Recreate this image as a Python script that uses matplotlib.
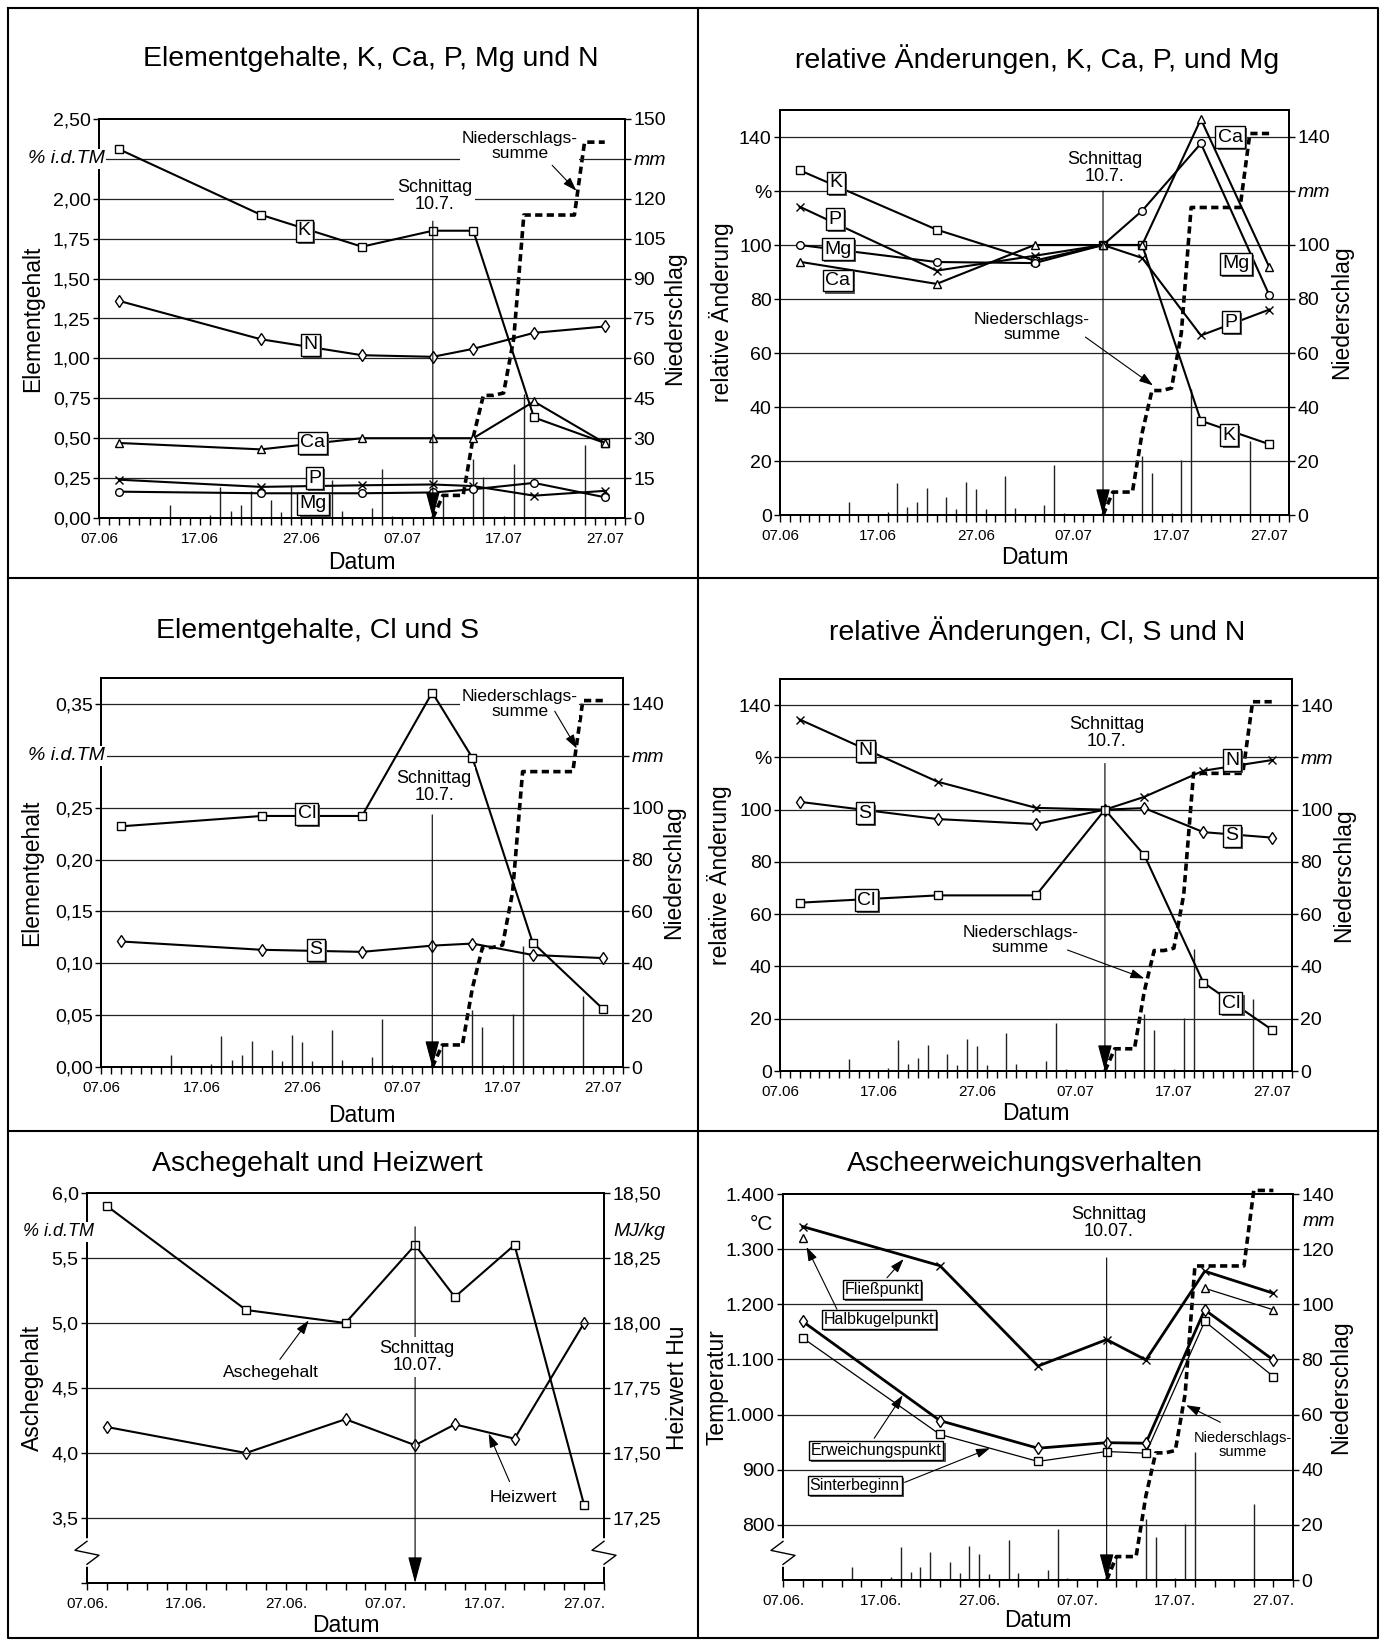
import numpy as np
import pandas as pd
import matplotlib
matplotlib.use('Agg')
import matplotlib.pyplot as plt
import matplotlib.patheffects as pe
from matplotlib.lines import Line2D

plt.rcParams['font.family'] = ['Liberation Sans', 'DejaVu Sans']

W, H = 1384, 1642

# Probenahmetermine
dates = ['09.06', '23.06', '03.07', '10.07', '14.07', '20.07', '27.07']

# Elementgehalte K, Ca, P, Mg, N in % i.d.TM
K = [2.31, 1.90, 1.70, 1.80, 1.80, 0.63, 0.47]
N = [1.36, 1.12, 1.02, 1.01, 1.06, 1.16, 1.20]
Ca = [0.47, 0.43, 0.50, 0.50, 0.50, 0.73, 0.47]
P = [0.24, 0.195, 0.205, 0.21, 0.20, 0.14, 0.17]
Mg = [0.165, 0.155, 0.155, 0.16, 0.18, 0.22, 0.13]

# relative Aenderungen (Schnittag = 100 %)
K_rel = [127.7, 105.7, 94.2, 100, 100, 34.9, 26.2]
P_rel = [114.2, 90.5, 96.0, 100, 95.2, 66.5, 76.1]
Mg_rel = [100, 93.7, 93.3, 100, 112.7, 137.6, 81.3]
Ca_rel = [93.8, 85.6, 100, 100, 100, 146.6, 91.7]

# Cl und S in % i.d.TM
Cl = [0.232, 0.242, 0.242, 0.361, 0.298, 0.120, 0.056]
S = [0.121, 0.113, 0.111, 0.117, 0.119, 0.108, 0.105]

N_rel = [134.5, 110.7, 100.7, 100, 104.9, 114.9, 119.0]
S_rel = [103.0, 96.4, 94.5, 100, 100.6, 91.4, 89.3]
Cl_rel = [64.4, 67.2, 67.2, 100, 82.6, 33.8, 15.7]

# Aschegehalt (% i.d.TM) und Heizwert (MJ/kg)
asche = [5.90, 5.10, 5.00, 5.60, 5.20, 5.60, 3.60]
heizwert = [17.60, 17.50, 17.63, 17.53, 17.61, 17.555, 18.00]

# Ascheerweichungsverhalten in Grad C
fliess = [1341, 1270, 1088, 1136, 1099, 1260, 1220]
halbkugel = [1320, np.nan, np.nan, np.nan, np.nan, 1229, 1190]
erweichung = [1169, 989, 939, 949, 948, 1190, 1099]
sinter = [1139, 964, 915, 933, 930, 1169, 1069]

# Niederschlag, Tageswerte in mm
rain_dates = ['14.06', '17.06', '18.06', '19.06', '20.06', '21.06', '22.06', '23.06',
              '24.06', '25.06', '26.06', '27.06', '28.06', '30.06', '01.07', '04.07',
              '05.07', '06.07', '11.07', '14.07', '15.07', '17.07', '18.07', '19.07', '25.07']
rain_mm = [4.7, 0.5, 1.2, 11.8, 2.8, 4.8, 10.0, 0.5, 6.6, 2.4, 12.3, 9.5, 2.2, 14.4, 2.6,
           3.7, 18.5, 0.9, 8.5, 22.0, 15.6, 0.9, 20.4, 46.5, 27.4]

# Niederschlagssumme ab Schnittag in mm
rain_sum_dates = ['10.07', '11.07', '12.07', '13.07', '14.07', '15.07', '16.07', '17.07', '18.07',
                  '19.07', '20.07', '21.07', '22.07', '23.07', '24.07', '25.07', '26.07', '27.07']
rain_sum = [0, 8.5, 8.5, 8.5, 30.5, 46.1, 46.1, 47.0, 67.4, 113.9, 113.9, 113.9, 113.9, 113.9,
            113.9, 141.3, 141.3, 141.3]

xtick_dates = ['07.06', '17.06', '27.06', '07.07', '17.07', '27.07']
xtick_dot = ['07.06.', '17.06.', '27.06.', '07.07.', '17.07.', '27.07.']

p1_left = ['0,00', '0,25', '0,50', '0,75', '1,00', '1,25', '1,50', '1,75', '2,00', '', '2,50']
p1_right = ['0', '15', '30', '45', '60', '75', '90', '105', '120', 'mm', '150']
rel_left = ['0', '20', '40', '60', '80', '100', '%', '140']
rel_right = ['0', '20', '40', '60', '80', '100', 'mm', '140']
p3_left = ['0,00', '0,05', '0,10', '0,15', '0,20', '0,25', '', '0,35']
p5_left = ['', '3,5', '4,0', '4,5', '5,0', '5,5', '6,0']
p5_right = ['17,25', '17,50', '17,75', '18,00', '18,25', '18,50']
p6_left = ['800', '900', '1.000', '1.100', '1.200', '1.300', '1.400']
p6_right = ['0', '20', '40', '60', '80', '100', '120', '140']

start = pd.Timestamp('2000-06-07')


def day(lst):
    return [(pd.Timestamp(f'2000-{s[3:5]}-{s[0:2]}') - start).days for s in lst]


x = day(dates)
fig = plt.figure(figsize=(W / 100, H / 100), dpi=100)

mk = dict(color='k', mfc='white', mec='k', mew=1.0)


def add_panel(rect):
    l, t, r, b = rect
    ax = fig.add_axes([l / W, 1 - b / H, (r - l) / W, (b - t) / H])
    ax2 = ax.twinx()
    ax.set_zorder(ax2.get_zorder() + 1)
    ax.patch.set_visible(False)
    return ax, ax2


def style_panel(ax, ax2, rect, left, right, grid, xlabels, minor, ylab, lab_x, datum_dy):
    l, t, r, b = rect
    w, h = r - l, b - t
    ax.set_xlim(0, 52)
    ax.set_xticks(day(xtick_dates))
    ax.set_xticklabels(xlabels, fontsize=11)
    ax.set_xticks(np.arange(0, 53, minor), minor=True)
    ax.tick_params(axis='x', which='both', direction='out', length=5, width=1, pad=5)
    for a, (ticks, labels, lim) in ((ax, left), (ax2, right)):
        a.set_ylim(*lim)
        a.set_yticks(ticks)
        a.set_yticklabels(labels, fontsize=14)
        a.tick_params(axis='y', direction='out', length=4, width=1, pad=2)
        for s in a.spines.values():
            s.set_linewidth(1.4)
    for g in grid:
        ax.axhline(g, color='#222', lw=0.9, zorder=1)
    ax.set_xlabel('Datum', fontsize=16.5)
    ax.xaxis.label.set_va('center')
    ax.xaxis.set_label_coords(0.5, -datum_dy / h)
    ax.set_ylabel(ylab[0], fontsize=16.5)
    ax2.set_ylabel(ylab[1], fontsize=16.5)
    ax.yaxis.label.set_va('center')
    ax2.yaxis.label.set_va('center')
    ax.yaxis.set_label_coords((lab_x[0] - l) / w, 0.5)
    ax2.yaxis.set_label_coords((lab_x[1] - l) / w, 0.5)
    for tl in ax.get_yticklabels() + ax2.get_yticklabels():
        if tl.get_text() == 'mm':
            tl.set_style('italic')


def draw_rain(ax2):
    ax2.vlines(day(rain_dates), 0, rain_mm, color='#222', lw=1)
    ax2.plot(day(rain_sum_dates), rain_sum, color='k', lw=2.6, ls=(0, (2, 1.2)), clip_on=False)


def schnitt(ax, label, ytext, ytop, ybot):
    ax.annotate('', xy=(33, ybot), xytext=(33, ytop),
                arrowprops=dict(arrowstyle='-|>,head_length=0.75,head_width=0.2', color='k',
                                lw=0.8, mutation_scale=22, shrinkA=0, shrinkB=0), zorder=4)
    ax.text(33.2, ytext, label, ha='center', va='center', fontsize=13, linespacing=1.0,
            zorder=5, bbox=dict(fc='white', ec='none', pad=2))


def note(ax, label, xy_text, xy_from, xy_to, size=12.5, bg=True):
    ax.text(xy_text[0], xy_text[1], label, ha='center', va='center', fontsize=size,
            linespacing=1.0, zorder=5,
            bbox=dict(fc='white', ec='none', pad=1) if bg else None)
    ax.annotate('', xy=xy_to, xytext=xy_from,
                arrowprops=dict(arrowstyle='-|>,head_length=0.6,head_width=0.2', color='k',
                                lw=0.8, mutation_scale=14, shrinkA=0, shrinkB=0), zorder=5)


def box(ax, xx, yy, s, size=14):
    t = ax.text(xx, yy, s, ha='center', va='center', fontsize=size, zorder=6,
                bbox=dict(boxstyle='square,pad=0.12', fc='white', ec='k', lw=1))
    t.get_bbox_patch().set_path_effects(
        [pe.SimplePatchShadow(offset=(1.5, -1.5), shadow_rgbFace='#555', alpha=1), pe.Normal()])


def axis_break(ax, xa, ya, w, h):
    xs = np.array([0, -12, 12, 0]) / w + xa
    ys = ya - np.array([0, 9, 14, 23]) / h
    ax.plot([xa, xa], [ya, ys[-1]], transform=ax.transAxes, color='white', lw=4,
            clip_on=False, zorder=6)
    ax.plot(xs, ys, transform=ax.transAxes, color='k', lw=1, clip_on=False, zorder=7)


def italic_left(ax, xa, yy, s, size=14):
    ax.text(xa, yy, s, transform=ax.get_yaxis_transform(), ha='right', va='center',
            fontsize=size, style='italic', zorder=6, bbox=dict(fc='white', ec='none', pad=1))


# ---------- Panel 1 ----------
r1 = (99, 119, 625, 518)
ax, ax2 = add_panel(r1)
style_panel(ax, ax2, r1, (np.arange(0, 2.51, 0.25), p1_left, (0, 2.5)),
            (np.arange(0, 151, 15), p1_right, (0, 150)), np.arange(0.25, 2.3, 0.25),
            xtick_dates, 1, ('Elementgehalt', 'Niederschlag'), (33, 675), 44)
draw_rain(ax2)
ax.plot(x, K, marker='s', ms=5.5, lw=1.5, **mk)
ax.plot(x, N, marker='d', ms=6, lw=1.5, **mk)
ax.plot(x, Ca, marker='^', ms=6, lw=1.5, **mk)
ax.plot(x, P, marker='x', ms=6, lw=1.5, **mk)
ax.plot(x, Mg, marker='o', ms=5.5, lw=1.5, **mk)
box(ax, 20.3, 1.80, 'K')
box(ax, 20.9, 1.084, 'N')
box(ax, 21.1, 0.47, 'Ca')
box(ax, 21.3, 0.25, 'P')
box(ax, 21.2, 0.088, 'Mg')
schnitt(ax, 'Schnittag\n10.7.', 2.015, 1.86, 0)
note(ax, 'Niederschlags-\nsumme', (41.6, 2.33), (44.8, 2.21), (47.2, 2.05))
italic_left(ax, 0.011, 2.25, '% i.d.TM')

# ---------- Panel 2 ----------
r2 = (780, 110, 1289, 515)
ax, ax2 = add_panel(r2)
style_panel(ax, ax2, r2, (np.arange(0, 141, 20), rel_left, (0, 150)),
            (np.arange(0, 141, 20), rel_right, (0, 150)), np.arange(20, 141, 20),
            xtick_dates, 1, ('relative Änderung', 'Niederschlag'), (722, 1342), 42)
draw_rain(ax2)
ax.plot(x, K_rel, marker='s', ms=5.5, lw=1.5, **mk)
ax.plot(x, P_rel, marker='x', ms=6, lw=1.5, **mk)
ax.plot(x, Mg_rel, marker='o', ms=5.5, lw=1.5, **mk)
ax.plot(x, Ca_rel, marker='^', ms=6, lw=1.5, **mk)
box(ax, 5.7, 123, 'K')
box(ax, 5.6, 109.6, 'P')
box(ax, 5.9, 98.5, 'Mg')
box(ax, 5.9, 86.8, 'Ca')
box(ax, 46.0, 140, 'Ca')
box(ax, 46.6, 93, 'Mg')
box(ax, 46.1, 71.4, 'P')
box(ax, 45.9, 29.6, 'K')
schnitt(ax, 'Schnittag\n10.7.', 128.7, 120, 0)
note(ax, 'Niederschlags-\nsumme', (25.7, 69.6), (31.2, 65.9), (38.1, 48))

# ---------- Panel 3 ----------
r3 = (101, 678, 623, 1067)
ax, ax2 = add_panel(r3)
style_panel(ax, ax2, r3, (np.arange(0, 0.351, 0.05), p3_left, (0, 0.375)),
            (np.arange(0, 141, 20), rel_right, (0, 150)), np.arange(0.05, 0.36, 0.05),
            xtick_dates, 1, ('Elementgehalt', 'Niederschlag'), (32, 674), 48)
draw_rain(ax2)
ax.plot(x, Cl, marker='s', ms=5.5, lw=1.5, **mk)
ax.plot(x, S, marker='d', ms=6, lw=1.5, **mk)
box(ax, 20.5, 0.244, 'Cl')
box(ax, 21.4, 0.113, 'S')
schnitt(ax, 'Schnittag\n10.7.', 0.270, 0.243, 0)
note(ax, 'Niederschlags-\nsumme', (41.7, 0.350), (45.2, 0.343), (47.4, 0.307))
italic_left(ax, 0.008, 0.30, '% i.d.TM')

# ---------- Panel 4 ----------
r4 = (780, 679, 1292, 1071)
ax, ax2 = add_panel(r4)
style_panel(ax, ax2, r4, (np.arange(0, 141, 20), rel_left, (0, 150)),
            (np.arange(0, 141, 20), rel_right, (0, 150)), np.arange(20, 141, 20),
            xtick_dates, 1, ('relative Änderung', 'Niederschlag'), (720, 1344), 42)
draw_rain(ax2)
ax.plot(x, N_rel, marker='x', ms=6, lw=1.5, **mk)
ax.plot(x, S_rel, marker='d', ms=6, lw=1.5, **mk)
ax.plot(x, Cl_rel, marker='s', ms=5.5, lw=1.5, **mk)
box(ax, 8.7, 122.5, 'N')
box(ax, 8.6, 98.6, 'S')
box(ax, 8.8, 65.4, 'Cl')
box(ax, 45.9, 119, 'N')
box(ax, 45.9, 90, 'S')
box(ax, 45.8, 25.9, 'Cl')
schnitt(ax, 'Schnittag\n10.7.', 129.4, 117.7, 0)
note(ax, 'Niederschlags-\nsumme', (24.4, 50.1), (29.2, 46.3), (37.0, 35.4))

# ---------- Panel 5 ----------
r5 = (87, 1193, 604, 1583)
ax, ax2 = add_panel(r5)
style_panel(ax, ax2, r5, (np.arange(3.0, 6.01, 0.5), p5_left, (3.0, 6.0)),
            (np.arange(17.25, 18.51, 0.25), p5_right, (17.0, 18.5)), np.arange(3.5, 5.6, 0.5),
            xtick_dot, 2, ('Aschegehalt', 'Heizwert Hu'), (32, 678), 42)
ax.plot(x, asche, marker='s', ms=5.5, lw=1.5, **mk)
ax2.plot(x, heizwert, marker='d', ms=6, lw=1.5, **mk)
schnitt(ax, 'Schnittag\n10.07.', 4.74, 5.74, 3.0)
note(ax, 'Aschegehalt', (18.5, 4.62), (19.4, 4.72), (22.3, 5.02), bg=False)
note(ax, 'Heizwert', (43.9, 3.66), (42.5, 3.78), (40.4, 4.15), bg=False)
italic_left(ax, 0.0135, 5.70, '% i.d.TM', size=13)
ax.text(1.019, 5.70, 'MJ/kg', transform=ax.get_yaxis_transform(), ha='left', va='center',
        fontsize=14, style='italic')
axis_break(ax, 0, 0.107, 517, 390)
axis_break(ax, 1, 0.107, 517, 390)

# ---------- Panel 6 ----------
r6 = (783, 1194, 1293, 1580)
ax, ax2 = add_panel(r6)
style_panel(ax, ax2, r6, (np.arange(800, 1401, 100), p6_left, (700, 1400)),
            (np.arange(0, 141, 20), p6_right, (0, 140)), np.arange(800, 1301, 100),
            xtick_dot, 2, ('Temperatur', 'Niederschlag'), (717, 1341), 40)
draw_rain(ax2)
ax.plot(x, fliess, marker='x', ms=6, lw=2.0, **mk)
ax.plot(x, halbkugel, marker='^', ms=5.5, lw=0.9, **mk)
ax.plot(x, erweichung, marker='d', ms=6, lw=2.0, **mk)
ax.plot(x, sinter, marker='s', ms=5.5, lw=0.9, **mk)
for lab, pos, p0, p1 in [('Fließpunkt', (10.1, 1227), (10.6, 1248), (12.3, 1282)),
                         ('Halbkugelpunkt', (9.8, 1173), (5.5, 1191), (2.4, 1304)),
                         ('Erweichungspunkt', (9.5, 935), (9.3, 957), (12.2, 1035)),
                         ('Sinterbeginn', (7.3, 872), (12.4, 877), (21.1, 939))]:
    ax.annotate('', xy=p1, xytext=p0,
                arrowprops=dict(arrowstyle='-|>,head_length=0.6,head_width=0.2', color='k',
                                lw=0.8, mutation_scale=14, shrinkA=0, shrinkB=0), zorder=5)
    box(ax, pos[0], pos[1], lab, size=11.5)
schnitt(ax, 'Schnittag\n10.07.', 1347, 1284, 700)
note(ax, 'Niederschlags-\nsumme', (46.9, 944), (44.6, 986), (41.1, 1017), size=10.5, bg=False)
ax.text(-0.02, 1344, '°C', transform=ax.get_yaxis_transform(), ha='right', va='center',
        fontsize=15)
ax.text(1.018, 1350, 'mm', transform=ax.get_yaxis_transform(), ha='left', va='center',
        fontsize=14, style='italic')
axis_break(ax, 0, 0.1, 510, 386)

# ---------- Titel und Rahmen ----------
for tx, ty, s in [(371, 59, 'Elementgehalte, K, Ca, P, Mg und N'),
                  (1037, 59, 'relative Änderungen, K, Ca, P, und Mg'),
                  (317, 631, 'Elementgehalte, Cl und S'),
                  (1037, 631, 'relative Änderungen, Cl, S und N'),
                  (317, 1164, 'Aschegehalt und Heizwert'),
                  (1025, 1164, 'Ascheerweichungsverhalten')]:
    fig.text(tx / W, 1 - ty / H, s, ha='center', va='center', fontsize=20.5)

for xs, ys in [([8, 1378, 1378, 8, 8], [8, 8, 1638, 1638, 8]), ([698, 698], [8, 1638]),
               ([8, 1378], [578, 578]), ([8, 1378], [1131, 1131])]:
    fig.add_artist(Line2D(np.array(xs) / W, 1 - np.array(ys) / H, color='k', lw=1.5))

fig.savefig('out.png', dpi=100)
